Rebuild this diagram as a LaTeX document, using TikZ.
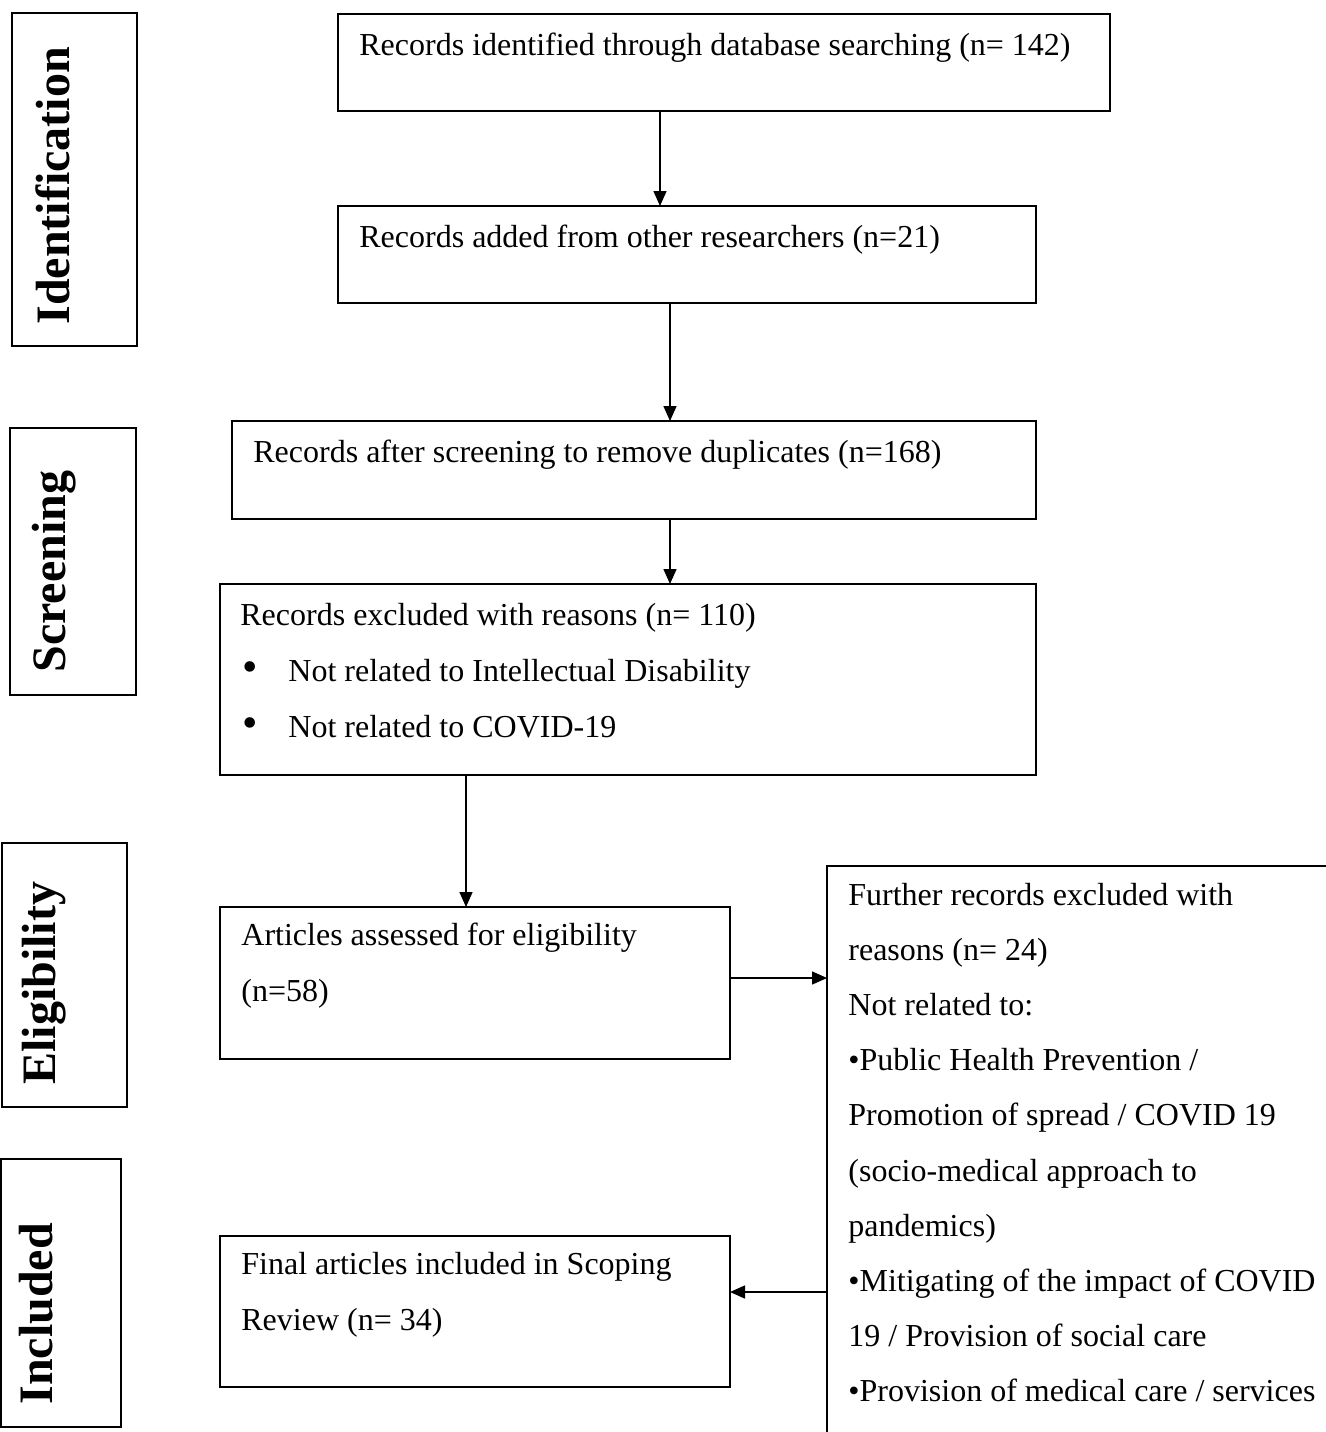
\documentclass[tikz,border=0pt]{standalone}
\usepackage{fontspec}
\setmainfont{Liberation Serif}
\usetikzlibrary{positioning,arrows.meta}

\begin{document}
\begin{tikzpicture}[
    x=0.5pt, y=-0.5pt,
    box/.style={draw,line width=1pt,inner sep=0pt,outer sep=0pt,anchor=north west},
    stage/.style={draw,line width=1pt,inner sep=0pt,outer sep=0pt,anchor=north west},
    stagetext/.style={rotate=90,anchor=north west,inner sep=0pt,font=\fontsize{24}{28}\selectfont\bfseries},
    txt/.style={anchor=north west,inner sep=0pt,align=left,font=\fontsize{16}{28}\selectfont},
    arr/.style={line width=0.75pt,-{Triangle[length=7.5pt,width=6.5pt]}}
]
\useasboundingbox (0,0) rectangle (1326,1432);
\clip (0,0) rectangle (1326,1432);

% Stages
\node[stage,minimum width=62.5pt,minimum height=166.5pt] (Sid) at (12,13) {};
\node[stage,minimum width=63pt,minimum height=133.5pt] (Sscr) at (10,428) {};
\node[stage,minimum width=62.5pt,minimum height=132pt] (Selig) at (2,843) {};
\node[stage,minimum width=60pt,minimum height=134pt] (Sinc) at (1,1159) {};

\node[stagetext] at ([shift={(23,-21)}]Sid.south west) {Identification};
\node[stagetext] at ([shift={(22,-22)}]Sscr.south west) {Screening};
\node[stagetext] at ([shift={(20,-22)}]Selig.south west) {Eligibility};
\node[stagetext] at ([shift={(18,-22)}]Sinc.south west) {Included};

% Boxes
\node[box,minimum width=386pt,minimum height=48.5pt] (B1) at (338,14) {};
\node[box,minimum width=349pt,minimum height=48.5pt] (B2) at (338,206) {};
\node[box,minimum width=402pt,minimum height=49pt] (B3) at (232,421) {};
\node[box,minimum width=408pt,minimum height=95.5pt] (B4) at (220,584) {};
\node[box,minimum width=255pt,minimum height=76pt] (B5) at (220,907) {};
\node[box,minimum width=255pt,minimum height=75.5pt] (B6) at (220,1236) {};
\node[box,minimum width=300pt,minimum height=320pt] (B7) at (827,866) {};

% Texts
\node[txt] at ([shift={(21,2)}]B1.north west) {\strut Records identified through database searching (n= 142)};
\node[txt] at ([shift={(21,2)}]B2.north west) {\strut Records added from other researchers (n=21)};
\node[txt] at ([shift={(21,2)}]B3.north west) {\strut Records after screening to remove duplicates (n=168)};
\node[txt] at ([shift={(20,2)}]B4.north west) {\strut Records excluded with reasons (n= 110)\\
    \hspace*{1pt}\makebox[23pt][l]{\fontsize{22}{28}\selectfont\textbullet}Not related to Intellectual Disability\\
    \hspace*{1pt}\makebox[23pt][l]{\fontsize{22}{28}\selectfont\textbullet}Not related to COVID-19};
\node[txt] at ([shift={(21,-1)}]B5.north west) {\strut Articles assessed for eligibility\\(n=58)};
\node[txt] at ([shift={(21,-1)}]B6.north west) {\strut Final articles included in Scoping\\Review (n= 34)};
\node[txt,font=\fontsize{16}{27.6}\selectfont] at ([shift={(21,0)}]B7.north west) {\strut Further records excluded with\\
    reasons (n= 24)\\
    Not related to:\\
    •Public Health Prevention /\\
    Promotion of spread / COVID 19\\
    (socio-medical approach to\\
    pandemics)\\
    •Mitigating of the impact of COVID\\
    19 / Provision of social care\\
    •Provision of medical care / services};

% Connectors
\coordinate (c1) at (660,0);
\coordinate (c2) at (670,0);
\coordinate (c3) at (466,0);
\coordinate (c4) at (0,978);
\coordinate (c5) at (0,1292);

\draw[arr] (B1.south -| c1) -- (B2.north -| c1);
\draw[arr] (B2.south -| c2) -- (B3.north -| c2);
\draw[arr] (B3.south -| c2) -- (B4.north -| c2);
\draw[arr] (B4.south -| c3) -- (B5.north -| c3);
\draw[arr] (B5.east |- c4) -- (B7.west |- c4);
\draw[arr] (B7.west |- c5) -- (B6.east |- c5);

\end{tikzpicture}
\end{document}
